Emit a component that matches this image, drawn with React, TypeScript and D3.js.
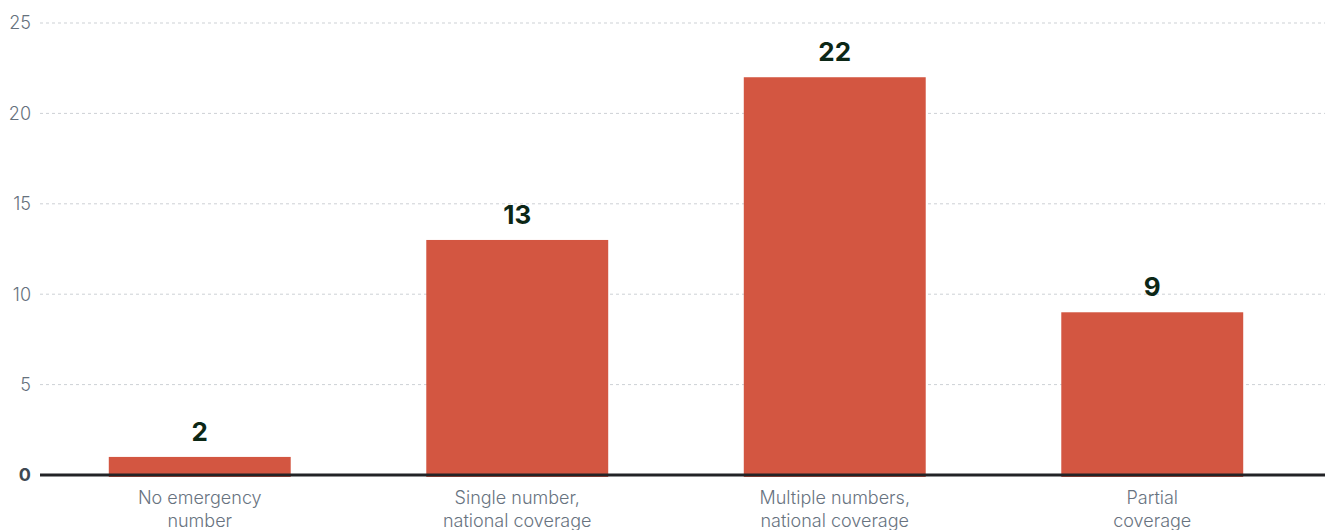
import React, { useEffect, useRef } from 'react';
import * as d3 from 'd3';

// categories and values
const categories = [
  'No emergency|number',
  'Single number,|national coverage',
  'Multiple numbers,|national coverage',
  'Partial|coverage',
];
const barValues = [1, 13, 22, 9];
const valueLabels = ['2', '13', '22', '9'];
const yTicks = [0, 5, 10, 15, 20, 25];

const App: React.FC = () => {
  const svgRef = useRef<SVGSVGElement>(null);

  useEffect(() => {
    if (!svgRef.current) return;
    const width = 1325;
    const height = 530;
    const margin = { top: 23, right: 14, bottom: 55, left: 41 };
    const font = 'Inter, "Noto Sans", sans-serif';

    const svg = d3.select(svgRef.current);
    svg.selectAll('*').remove();

    const x = d3.scaleBand<string>()
      .domain(categories)
      .range([margin.left, width - margin.right])
      .paddingInner(0.427)
      .paddingOuter(0.2135);

    const y = d3.scaleLinear()
      .domain([0, 25])
      .range([height - margin.bottom, margin.top]);

    // grid lines
    svg.append('g')
      .selectAll('line')
      .data(yTicks.filter(t => t !== 0))
      .join('line')
      .attr('x1', 40)
      .attr('x2', width)
      .attr('y1', d => y(d))
      .attr('y2', d => y(d))
      .attr('stroke', '#cdd1d5')
      .attr('stroke-dasharray', '3,3');

    // y tick labels
    svg.append('g')
      .selectAll('text')
      .data(yTicks)
      .join('text')
      .attr('x', 31)
      .attr('y', d => y(d))
      .attr('dy', '0.35em')
      .attr('text-anchor', 'end')
      .style('font-family', font)
      .style('font-size', '18px')
      .style('font-weight', d => (d === 0 ? 700 : 300))
      .style('fill', d => (d === 0 ? '#3e4853' : '#66717d'))
      .text(d => d);

    // bars
    svg.append('g')
      .selectAll('rect')
      .data(barValues)
      .join('rect')
      .attr('x', (_, i) => x(categories[i]) || 0)
      .attr('y', d => y(d))
      .attr('width', x.bandwidth())
      .attr('height', d => y(0) - y(d) + 2)
      .attr('fill', '#d35641');

    // zero axis line
    svg.append('line')
      .attr('x1', 40)
      .attr('x2', width)
      .attr('y1', y(0))
      .attr('y2', y(0))
      .attr('stroke', '#222326')
      .attr('stroke-width', 3);

    // value labels
    svg.append('g')
      .selectAll('text')
      .data(barValues)
      .join('text')
      .attr('x', (_, i) => (x(categories[i]) || 0) + x.bandwidth() / 2)
      .attr('y', d => y(d) - 16)
      .attr('text-anchor', 'middle')
      .style('font-family', font)
      .style('font-size', '26px')
      .style('font-weight', 700)
      .style('fill', '#0c2716')
      .text((_, i) => valueLabels[i]);

    // category labels
    const cat = svg.append('g')
      .selectAll('text')
      .data(categories)
      .join('text')
      .attr('x', d => (x(d) || 0) + x.bandwidth() / 2)
      .attr('y', y(0) + 29)
      .attr('text-anchor', 'middle')
      .style('font-family', font)
      .style('font-size', '18px')
      .style('font-weight', 300)
      .style('fill', '#68737f');
    cat.selectAll('tspan')
      .data(d => d.split('|'))
      .join('tspan')
      .attr('x', function () {
        return (this.parentNode as SVGTextElement).getAttribute('x');
      })
      .attr('dy', (_, i) => (i === 0 ? 0 : 23))
      .text(d => d);
  }, []);

  return (
    <svg
      ref={svgRef}
      width={1325}
      height={530}
      style={{ position: 'absolute', left: 0, top: 0, background: '#fff' }}
    />
  );
};

export default App;
